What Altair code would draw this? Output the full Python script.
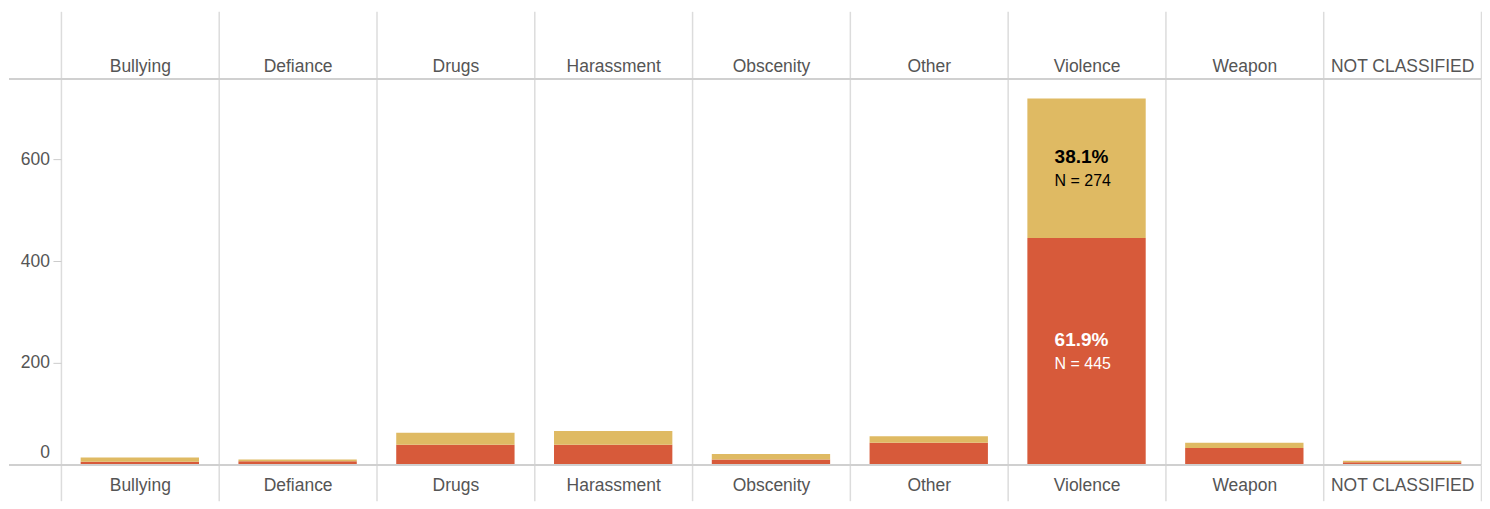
import altair as alt
import pandas as pd

categories = ["Bullying", "Defiance", "Drugs", "Harassment", "Obscenity",
              "Other", "Violence", "Weapon", "NOT CLASSIFIED"]
series_names = ["Group 1", "Group 2"]
group1_counts = [6, 7, 39, 39, 10, 43, 445, 33, 5]
group2_counts = [8, 3, 24, 27, 11, 13, 274, 10, 3]
labeled_categories = ["Violence"]
y_ticks = [0, 200, 400, 600]

RED = "#D75A3A"
YELLOW = "#DFBA63"
GRID = "#dcdcdc"
LABEL = "#555555"
FONT = "Liberation Sans"
W, H = 1422, 386

rows = []
for i, c in enumerate(categories):
    a, b = group1_counts[i], group2_counts[i]
    tot = a + b
    rows.append(dict(category=c, series=series_names[0], count=a, order=0,
                     mid=a / 2, pct=f"{100 * a / tot:.1f}%", n=f"N = {a}", tcolor="white"))
    rows.append(dict(category=c, series=series_names[1], count=b, order=1,
                     mid=a + b / 2, pct=f"{100 * b / tot:.1f}%", n=f"N = {b}", tcolor="black"))
df = pd.DataFrame(rows)
lab = df[df["category"].isin(labeled_categories)]

xscale = alt.Scale(domain=categories, paddingInner=0, paddingOuter=0)
yscale = alt.Scale(domain=[0, 757], nice=False)

bottom_axis = alt.Axis(orient="bottom", title=None, tickBand="extent", tickSize=36,
                       tickColor=GRID, tickWidth=1.5, grid=True, gridColor=GRID, gridWidth=1.5,
                       domain=False, labelAngle=0, labelPadding=-24.4, labelFontSize=17.5,
                       labelColor=LABEL, labelFont=FONT)
top_axis = alt.Axis(orient="top", title=None, tickBand="extent", tickSize=68,
                    tickColor=GRID, tickWidth=1.5, grid=False,
                    domain=False, labelAngle=0, labelPadding=-64.6, labelFontSize=17.5,
                    labelColor=LABEL, labelFont=FONT)
y_axis = alt.Axis(title=None, values=y_ticks, tickSize=8, tickColor="#cccccc", domain=False,
                  grid=False, labelPadding=3.5, labelFontSize=17.5, labelColor=LABEL,
                  labelFont=FONT, labelFlush=True, labelFlushOffset=-3)

bars = alt.Chart(df).mark_bar(width={"band": 0.75}).encode(
    x=alt.X("category:N", sort=categories, scale=xscale, axis=bottom_axis),
    y=alt.Y("count:Q", stack="zero", scale=yscale, axis=y_axis),
    color=alt.Color("series:N", scale=alt.Scale(domain=series_names, range=[RED, YELLOW]), legend=None),
    order=alt.Order("order:Q"),
)

top = alt.Chart(df).mark_point(opacity=0).encode(
    x=alt.X("category:N", sort=categories, scale=xscale, axis=top_axis),
    y=alt.value(0),
)

top_line = alt.Chart(df).mark_rule(color="#d0d0d0", strokeWidth=1.5).encode(
    x=alt.value(-52), x2=alt.value(W), y=alt.value(0)
)
zero_line = alt.Chart(df).mark_rule(color="#d0d0d0", strokeWidth=1.5).encode(
    x=alt.value(-52), x2=alt.value(W), y=alt.value(H)
)

pct_text = alt.Chart(lab).mark_text(font=FONT, fontSize=19, fontWeight="bold", align="left",
                                    baseline="middle", dx=-32, dy=-11).encode(
    x=alt.X("category:N", sort=categories, scale=xscale, axis=None),
    y=alt.Y("mid:Q", scale=yscale, axis=y_axis),
    text="pct:N",
    color=alt.Color("tcolor:N", scale=None),
)
n_text = alt.Chart(lab).mark_text(font=FONT, fontSize=16, align="left",
                                  baseline="middle", dx=-32, dy=13).encode(
    x=alt.X("category:N", sort=categories, scale=xscale, axis=None),
    y=alt.Y("mid:Q", scale=yscale, axis=y_axis),
    text="n:N",
    color=alt.Color("tcolor:N", scale=None),
)

chart = alt.layer(bars, top, top_line, zero_line, pct_text, n_text).resolve_axis(
    x="independent"
).properties(
    width=W, height=H, padding={"left": 0, "top": 2, "right": 0, "bottom": 0}
).configure_view(stroke=None)

chart.save("out.html", embed_options={"renderer": "svg", "actions": False})
